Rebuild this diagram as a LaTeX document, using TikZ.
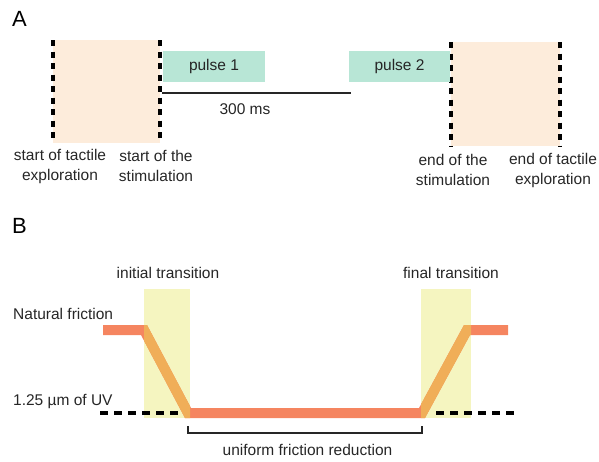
\documentclass[tikz,border=0pt]{standalone}
\usepackage{fontspec}
\setmainfont{Liberation Sans}
\begin{document}
\begin{tikzpicture}[x=1pt,y=-1pt,
  txt/.style={font=\fontsize{15.5}{20}\selectfont, inner sep=0pt, text=black!85},
  panel/.style={font=\fontsize{22}{26}\selectfont, inner sep=0pt, anchor=base west},
  peach/.style={fill=peachc, draw=none},
  pulsebox/.style={fill=mintc, draw=none, inner sep=0pt},
  vdash/.style={line width=4pt, dash pattern=on 6pt off 5.5pt, black},
  hdash/.style={line width=4.5pt, dash pattern=on 8pt off 6pt, black},
  band/.style={fill=yellowc, draw=none},
  friction/.style={line width=10pt, miter limit=20}]
\definecolor{peachc}{RGB}{253,236,219}
\definecolor{mintc}{RGB}{184,230,214}
\definecolor{yellowc}{RGB}{245,245,192}
\definecolor{salmonc}{RGB}{245,133,96}
\definecolor{mixc}{RGB}{240,174,88}
\useasboundingbox (0,0) rectangle (599,461);

% ---------- Panel A ----------
\node[panel] (A) at (12,26) {A};
\fill[peach] (53,40) rectangle (160,143);
\fill[peach] (451,42) rectangle (560,146);
\coordinate (l1t) at (53,40);  \coordinate (l1b) at (53,143);
\coordinate (l2t) at (160,40); \coordinate (l2b) at (160,143);
\coordinate (l3t) at (451,42); \coordinate (l3b) at (451,146);
\coordinate (l4t) at (560,42); \coordinate (l4b) at (560,146);
\draw[vdash] (l1t) -- (l1b);
\draw[vdash] (l2t) -- (l2b);
\draw[vdash] (l3t) -- (l3b);
\draw[vdash] (l4t) -- (l4b);

\node[pulsebox, minimum width=102pt, minimum height=31pt, txt] (p1) at (214,66.5) {pulse 1};
\node[pulsebox, minimum width=101pt, minimum height=31pt, txt] (p2) at (399.5,66.5) {pulse 2};
\coordinate (ts) at (162,93);
\coordinate (te) at (351,93);
\draw[line width=2pt, black!85] (ts) -- (te);
\node[txt] (ms) at (245,109.5) {300 ms};

\node[txt, align=center] (s1) at (60,166) {start of tactile\\exploration};
\node[txt, align=center] (s2) at (156,166) {start of the\\stimulation};
\node[txt, align=center] (e1) at (453,170) {end of the\\stimulation};
\node[txt, align=center] (e2) at (553,170) {end of tactile\\exploration};

% ---------- Panel B ----------
\node[panel] (B) at (12,233) {B};
\fill[band] (144,289) rectangle (190,418);
\fill[band] (421,289) rectangle (471,418);

\coordinate (f0) at (103,330);
\coordinate (f1) at (144,330);
\coordinate (f2) at (188,413);
\coordinate (f3) at (422,413);
\coordinate (f4) at (467,330);
\coordinate (f5) at (508,330);
\draw[friction, salmonc] (f0) -- (f1) -- (f2) -- (f3) -- (f4) -- (f5);
\begin{scope}
  \clip (144,289) rectangle (190,418) (421,289) rectangle (471,418);
  \draw[friction, mixc] (f0) -- (f1) -- (f2) -- (f3) -- (f4) -- (f5);
\end{scope}

\coordinate (d1a) at (100,413); \coordinate (d1b) at (180,413);
\coordinate (d2a) at (436,413); \coordinate (d2b) at (516,413);
\draw[hdash] (d1a) -- (d1b);
\draw[hdash] (d2a) -- (d2b);

\coordinate (b1) at (188,426); \coordinate (b2) at (422,426);
\draw[line width=1.5pt, black!85] (b1) -- (188,433) -- (422,433) -- (b2);

\node[txt] (it) at (168,272.5) {initial transition};
\node[txt] (ft) at (451,272.5) {final transition};
\node[txt, anchor=base west] (nf) at (13,319) {Natural friction};
\node[txt, anchor=base west] (uv) at (13,405) {1.25 µm of UV};
\node[txt, anchor=base] (ufr) at (307.5,455) {uniform friction reduction};
\end{tikzpicture}
\end{document}
